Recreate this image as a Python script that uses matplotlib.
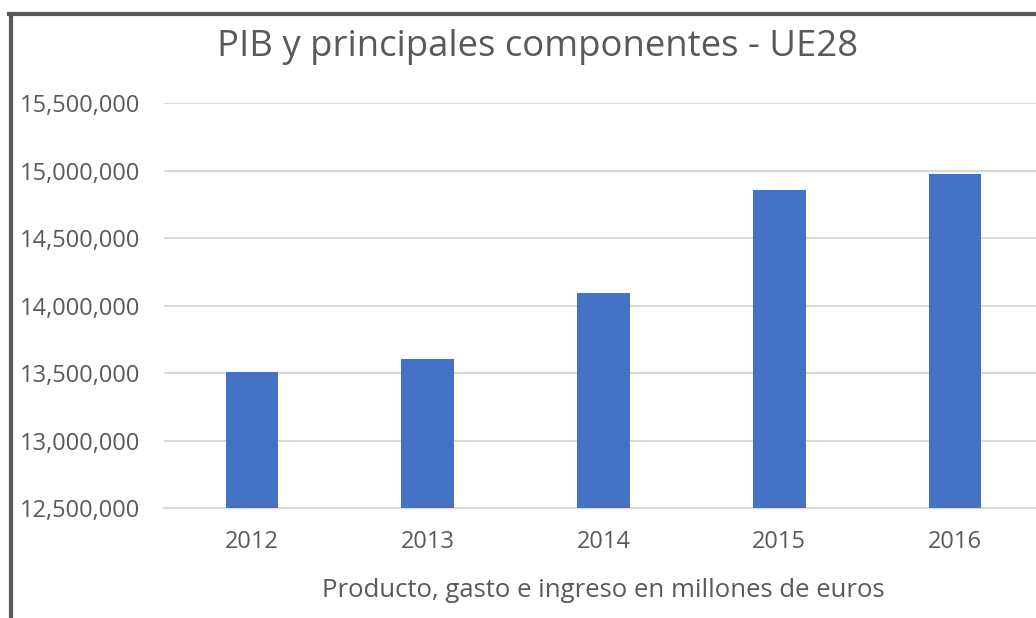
import matplotlib.pyplot as plt
from matplotlib.lines import Line2D
from matplotlib.ticker import FuncFormatter

plt.rcParams['font.family'] = ['Open Sans', 'DejaVu Sans']

# data
years = ['2012', '2013', '2014', '2015', '2016']
pib = [13505000, 13604000, 14089000, 14856000, 14975000]

W, H = 1036, 618
fig = plt.figure(figsize=(W / 100, H / 100), dpi=100)
fig.patch.set_facecolor('white')

# plot area in pixels: x 164..1043, y 103..508 (right edge runs past the crop)
ax = fig.add_axes([164 / W, (H - 508) / H, 879 / W, 405 / H])
x = range(len(years))
ax.bar(x, pib, width=0.30, color='#4472C4', zorder=3)
ax.set_xlim(-0.5, len(years) - 0.5)
ax.set_ylim(12500000, 15500000)
ax.set_yticks(range(12500000, 15500001, 500000))
ax.yaxis.set_major_formatter(FuncFormatter(lambda v, p: f'{int(v):,}'))
ax.set_xticks(list(x))
ax.set_xticklabels(years)

ax.grid(axis='y', color='#d9d9d9', linewidth=1.5, zorder=0)
for s in ['top', 'right', 'left']:
    ax.spines[s].set_visible(False)
ax.spines['bottom'].set_color('#d9d9d9')
ax.spines['bottom'].set_linewidth(1.5)
ax.tick_params(axis='both', length=0, labelsize=17, labelcolor='#595959')
ax.tick_params(axis='y', pad=17)
ax.tick_params(axis='x', pad=16)

ax.set_xlabel('Producto, gasto e ingreso en millones de euros', fontsize=18.5,
              color='#595959', labelpad=17)

fig.text(538 / W, 1 - 47 / H, 'PIB y principales componentes - UE28',
         fontsize=26.3, color='#595959', ha='center', va='center')

# chart frame (left and top edges visible in the crop)
fig.add_artist(Line2D([10.5 / W, 10.5 / W], [0, 1 - 14 / H], color='#595959',
                      linewidth=3, transform=fig.transFigure))
fig.add_artist(Line2D([9 / W, 1], [1 - 14 / H, 1 - 14 / H], color='#595959',
                      linewidth=3, transform=fig.transFigure))

fig.savefig('out.png', dpi=100)
